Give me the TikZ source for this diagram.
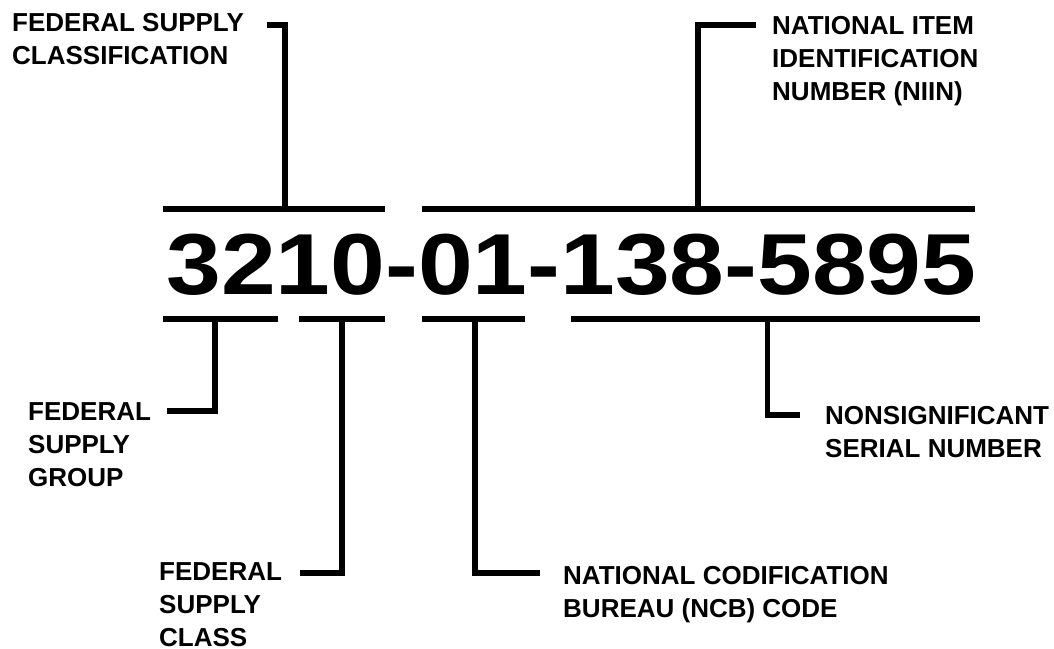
\documentclass[tikz,border=0pt]{standalone}
\usepackage{fontspec}
\usepackage{graphicx}
\setmainfont{Liberation Sans}
\begin{document}
\begin{tikzpicture}[x=1pt,y=-1pt,
  bar/.style={line width=6pt,line cap=butt},
  conn/.style={line width=5.5pt,line cap=butt,line join=miter},
  % base anchor of a multi-line label sits on its last line
  lab/.style={anchor=base west,inner sep=0pt,align=left,
    font=\bfseries\fontsize{26}{33}\selectfont},
  code/.style={anchor=base,inner sep=0pt,
    font=\bfseries\fontsize{86.6}{90}\selectfont}]
\useasboundingbox[fill=white] (0,0) rectangle (1054,648);

% the stock number itself
\node[code] (nsn) at (571.5,294) {\scalebox{1.137}[1]{3210-01-138-5895}};

% brackets above the number
\coordinate (fscL) at (163,208.5);  \coordinate (fscR) at (385,208.5);
\coordinate (niinL) at (422,208.5); \coordinate (niinR) at (975,208.5);
\draw[bar] (fscL) -- (fscR);
\draw[bar] (niinL) -- (niinR);

% brackets below the number
\coordinate (fsgL) at (163,319);   \coordinate (fsgR) at (278,319);
\coordinate (clsL) at (299,319);   \coordinate (clsR) at (385,319);
\coordinate (ncbL) at (422,319);   \coordinate (ncbR) at (525,319);
\coordinate (serL) at (571,319);   \coordinate (serR) at (980,319);
\draw[bar] (fsgL) -- (fsgR);
\draw[bar] (clsL) -- (clsR);
\draw[bar] (ncbL) -- (ncbR);
\draw[bar] (serL) -- (serR);

% labels
\node[lab] (tFSC)  at (12,64)   {FEDERAL SUPPLY\\CLASSIFICATION};
\node[lab] (tNIIN) at (772,100) {NATIONAL ITEM\\IDENTIFICATION\\NUMBER (NIIN)};
\node[lab] (tFSG)  at (28,486)  {FEDERAL\\SUPPLY\\GROUP};
\node[lab] (tCLS)  at (159,646) {FEDERAL\\SUPPLY\\CLASS};
\node[lab] (tNCB)  at (563,617) {NATIONAL CODIFICATION\\BUREAU (NCB) CODE};
\node[lab] (tSER)  at (825,457) {NONSIGNIFICANT\\SERIAL NUMBER};

% leader lines: junction on a bracket, free end beside the label
\coordinate (jFSC)  at (285,208.5); \coordinate (eFSC)  at (267,25);
\coordinate (jNIIN) at (698,208.5); \coordinate (eNIIN) at (756,25);
\coordinate (jFSG)  at (215,319);   \coordinate (eFSG)  at (167,411);
\coordinate (jCLS)  at (342,319);   \coordinate (eCLS)  at (300,573);
\coordinate (jNCB)  at (475,319);   \coordinate (eNCB)  at (540,573);
\coordinate (jSER)  at (767.5,319); \coordinate (eSER)  at (800,415);
\draw[conn] (jFSC)  |- (eFSC);
\draw[conn] (jNIIN) |- (eNIIN);
\draw[conn] (jFSG)  |- (eFSG);
\draw[conn] (jCLS)  |- (eCLS);
\draw[conn] (jNCB)  |- (eNCB);
\draw[conn] (jSER)  |- (eSER);
\end{tikzpicture}
\end{document}
